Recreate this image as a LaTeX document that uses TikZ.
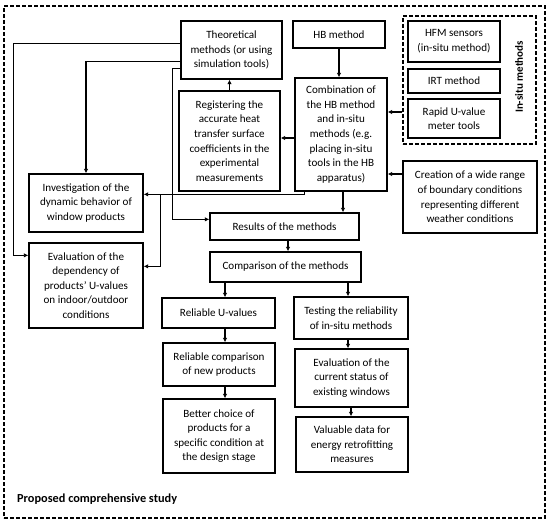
\documentclass[tikz,border=0pt]{standalone}
\usepackage{fontspec}
\setmainfont{Carlito}
\usetikzlibrary{calc,arrows.meta}
\begin{document}
\begin{tikzpicture}[x=1bp,y=-1bp,
  box/.style={draw,line width=1.3bp,align=center,inner sep=1bp,font=\fontsize{11.1bp}{14.6bp}\selectfont},
  arr/.style={line width=1.3bp,-{Latex[length=4.5bp,width=4.5bp]}},
  dframe/.style={draw,line width=1.2bp,dash pattern=on 4bp off 2bp}]
\useasboundingbox (0,0) rectangle (550,524);
\node[dframe,minimum width=541bp,minimum height=512bp] (outer) at (274.5,262) {};
\node[font=\fontsize{12.3bp}{14bp}\selectfont\bfseries,anchor=west,inner sep=0pt] (title) at (17,499) {Proposed comprehensive study};
% in-situ group
\node[dframe,minimum width=133bp,minimum height=128bp] (grp) at (469.5,80) {};
\node[rotate=90,font=\fontsize{11bp}{12bp}\selectfont\bfseries] (grpl) at (519,77) {In-situ methods};
\node[box,minimum width=92bp,minimum height=41bp] (hfm) at (454,41.5) {HFM sensors\\(in-situ method)};
\node[box,minimum width=92bp,minimum height=24bp] (irt) at (454,81) {IRT method};
\node[box,minimum width=92bp,minimum height=39bp] (rapid) at (454,118.5) {Rapid U-value\\meter tools};
% top
\node[box,minimum width=101bp,minimum height=58bp] (theo) at (231.5,50) {Theoretical\\methods (or using\\simulation tools)};
\node[box,minimum width=92bp,minimum height=27bp] (hb) at (339,34.5) {HB method};
\node[box,minimum width=101bp,minimum height=100bp] (reg) at (229.5,141) {Registering the\\accurate heat\\transfer surface\\coefficients in the\\experimental\\measurements};
\node[box,minimum width=92bp,minimum height=113bp] (comb) at (341,134.5) {Combination of\\the HB method\\and in-situ\\methods (e.g.\\placing in-situ\\tools in the HB\\apparatus)};
\node[box,minimum width=134bp,minimum height=72bp] (creat) at (470,197) {Creation of a wide range\\of boundary conditions\\representing different\\weather conditions};
% left
\node[box,minimum width=114bp,minimum height=58bp] (inv) at (86,203) {Investigation of the\\dynamic behavior of\\window products};
\node[box,minimum width=114bp,minimum height=85bp] (evdep) at (86,285.5) {Evaluation of the\\dependency of\\products’ U-values\\on indoor/outdoor\\conditions};
% middle
\node[box,minimum width=149bp,minimum height=27bp] (res) at (284.5,226.5) {Results of the methods};
\node[box,minimum width=151bp,minimum height=30bp] (comp) at (285.5,267) {Comparison of the methods};
\node[box,minimum width=113bp,minimum height=30bp] (relu) at (218.5,313) {Reliable U-values};
\node[box,minimum width=114bp,minimum height=42bp] (test) at (351,318) {Testing the reliability\\of in-situ methods};
\node[box,minimum width=112bp,minimum height=43bp] (relc) at (219,364.5) {Reliable comparison\\of new products};
\node[box,minimum width=112bp,minimum height=74bp] (better) at (219,436) {Better choice of\\products for a\\specific condition at\\the design stage};
\node[box,minimum width=113bp,minimum height=58bp] (evcur) at (351.5,378) {Evaluation of the\\current status of\\existing windows};
\node[box,minimum width=112bp,minimum height=55bp] (val) at (352,444.5) {Valuable data for\\energy retrofitting\\measures};
% connectors
\draw[arr] (hb.south) -- (hb.south |- comb.north);
\draw[arr] ($(grp.west)+(0,32)$) coordinate (g1) -- (g1 -| comb.east);
\draw[arr] ($(creat.west)+(0,-23)$) coordinate (c1) -- (c1 -| comb.east);
\draw[arr] (reg.north) -- (reg.north |- theo.south);
\draw[arr] ($(comb.west)+(0,3.5)$) coordinate (c2) -- (c2 -| reg.east);
\draw[arr] ($(comb.south)+(2,0)$) coordinate (c3) -- (c3 |- res.north);
\draw[arr] ($(comb.south west)+(10,0)$) |- ($(inv.north east)+(0,21)$);
\coordinate (j) at ($(inv.north east)+(17,21)$);
\draw[arr] (j) |- ($(evdep.north east)+(0,24)$);
\draw[arr] ($(theo.north west)+(0,41)$) -| (inv.north);
\draw[arr] ($(theo.north west)+(0,23)$) -- ++(-167,0) |- ($(evdep.north west)+(0,13)$);
\draw[arr] ($(theo.north west)+(0,48)$) -- ++(-8,0) |- ($(res.north west)+(0,7)$);
\draw[arr] ($(res.south)+(3.5,0)$) coordinate (c4) -- (c4 |- comp.north);
\coordinate (c5) at ($(relu.north)+(6.5,0)$);
\draw[arr] (c5 |- comp.south) -- (c5);
\coordinate (c6) at ($(test.north)+(-3,0)$);
\draw[arr] (c6 |- comp.south) -- (c6);
\draw[arr] ($(relu.south)+(6.5,0)$) coordinate (c7) -- (c7 |- relc.north);
\draw[arr] ($(relc.south)+(6,0)$) coordinate (c8) -- (c8 |- better.north);
\draw[arr] ($(test.south)+(-3,0)$) coordinate (c9) -- (c9 |- evcur.north);
\draw[arr] ($(evcur.south)+(-0.5,0)$) coordinate (c10) -- (c10 |- val.north);
\end{tikzpicture}
\end{document}
